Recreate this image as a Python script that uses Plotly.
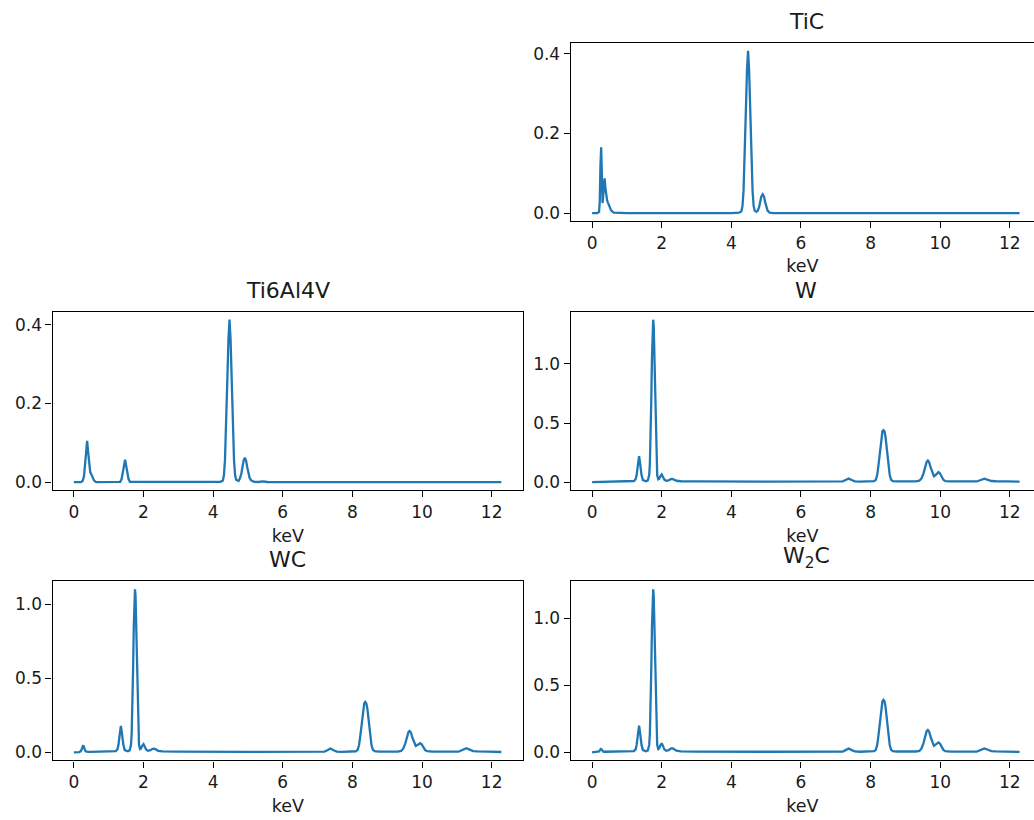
import plotly.graph_objects as go

# ---------------- data ----------------
TITLES = ["TiC", "Ti6Al4V", "W", "WC", "W<sub>2</sub>C"]
X_TICKS = [0, 2, 4, 6, 8, 10, 12]

TIC_KEV = [0.0, 0.15, 0.20, 0.22, 0.24, 0.26, 0.28, 0.30, 0.32, 0.34, 0.36, 0.38, 0.40, 0.43, 0.46, 0.50, 0.55, 0.62,
           1.0, 4.0,
           4.22, 4.29, 4.32, 4.35, 4.38, 4.415, 4.45, 4.48, 4.51, 4.545, 4.58, 4.61, 4.64, 4.67,
           4.72, 4.76, 4.80, 4.83, 4.86, 4.90, 4.94, 4.97, 5.00, 5.04, 5.10, 5.20,
           8.0, 12.28]
TIC_INT = [0, 0, 0.003, 0.03, 0.12, 0.165, 0.10, 0.025, 0.045, 0.075, 0.087, 0.065, 0.045, 0.032, 0.025, 0.015, 0.006, 0.001,
           0, 0,
           0.001, 0.0045, 0.018, 0.055, 0.13, 0.25, 0.36, 0.408, 0.36, 0.25, 0.13, 0.055, 0.018, 0.006,
           0.003, 0.006, 0.016, 0.028, 0.041, 0.047, 0.041, 0.028, 0.015, 0.006, 0.001, 0,
           0, 0]

TI64_KEV = [0.0, 0.20, 0.25, 0.29, 0.32, 0.35, 0.38, 0.41, 0.44, 0.47, 0.50, 0.54, 0.58, 0.64,
            1.33, 1.37, 1.40, 1.435, 1.47, 1.505, 1.54, 1.57, 1.61,
            4.0,
            4.21, 4.28, 4.31, 4.34, 4.37, 4.405, 4.44, 4.47, 4.50, 4.535, 4.57, 4.60, 4.63, 4.66,
            4.73, 4.77, 4.81, 4.84, 4.875, 4.91, 4.945, 4.98, 5.01, 5.05, 5.10, 5.18,
            5.30, 5.43, 5.56, 5.70,
            8.0, 12.28]
TI64_INT = [0, 0, 0.003, 0.015, 0.045, 0.085, 0.105, 0.075, 0.04, 0.025, 0.02, 0.012, 0.004, 0,
            0.001, 0.008, 0.02, 0.04, 0.057, 0.04, 0.02, 0.008, 0.001,
            0,
            0.001, 0.0045, 0.018, 0.056, 0.132, 0.253, 0.364, 0.413, 0.364, 0.253, 0.132, 0.056, 0.018, 0.006,
            0.003, 0.01, 0.022, 0.038, 0.055, 0.062, 0.055, 0.038, 0.022, 0.01, 0.004, 0.001,
            0.0005, 0.002, 0.0005, 0,
            0, 0]

W_KEV = [0.0, 0.15, 0.20, 0.23, 0.25, 0.27, 0.29, 0.32, 0.36, 0.45, 1.0, 1.2,
         1.25, 1.28, 1.315, 1.35, 1.385, 1.42, 1.46, 1.55,
         1.60, 1.64, 1.66, 1.68, 1.70, 1.72, 1.74, 1.755, 1.77, 1.79, 1.81, 1.83, 1.85, 1.87, 1.90,
         1.93, 1.96, 2.00, 2.04, 2.08, 2.13,
         2.20, 2.26, 2.30, 2.35, 2.42, 2.55,
         3.0, 5.0, 7.0,
         7.20, 7.28, 7.37, 7.46, 7.55, 7.70,
         8.00, 8.10, 8.15, 8.19, 8.23, 8.27, 8.31, 8.34, 8.37, 8.40, 8.43, 8.47, 8.51, 8.55, 8.59, 8.64, 8.75, 9.00,
         9.30, 9.40, 9.46, 9.52, 9.57, 9.61, 9.645, 9.68, 9.73, 9.78, 9.82, 9.86, 9.91, 9.95, 9.99, 10.04, 10.09, 10.15, 10.30,
         11.05, 11.15, 11.27, 11.37, 11.47, 11.60, 11.75, 11.90, 12.28]

W_INT = [0, 0.001, 0.002, 0.002, 0.003, 0.003, 0.003, 0.003, 0.004, 0.004, 0.008, 0.010,
         0.025, 0.06, 0.145, 0.22, 0.145, 0.06, 0.018, 0.008,
         0.015, 0.06, 0.16, 0.38, 0.70, 1.06, 1.32, 1.375, 1.32, 1.06, 0.70, 0.38, 0.16, 0.06, 0.025,
         0.03, 0.05, 0.065, 0.042, 0.02, 0.012,
         0.016, 0.026, 0.028, 0.022, 0.012, 0.008,
         0.006, 0.005, 0.005,
         0.007, 0.018, 0.030, 0.018, 0.007, 0.005,
         0.006, 0.008, 0.02, 0.06, 0.15, 0.27, 0.38, 0.43, 0.44, 0.43, 0.38, 0.27, 0.15, 0.06, 0.02, 0.008, 0.007, 0.006,
         0.007, 0.012, 0.03, 0.075, 0.135, 0.172, 0.183, 0.17, 0.12, 0.07, 0.05, 0.058, 0.078, 0.085, 0.075, 0.045, 0.02, 0.009, 0.006,
         0.006, 0.016, 0.03, 0.02, 0.01, 0.008, 0.009, 0.006, 0.004]

WC_INT = [0, 0.001, 0.008, 0.03, 0.045, 0.047, 0.035, 0.012, 0.004, 0.003, 0.006, 0.008,
          0.02, 0.05, 0.118, 0.178, 0.118, 0.05, 0.015, 0.007,
          0.013, 0.05, 0.13, 0.30, 0.56, 0.85, 1.055, 1.10, 1.055, 0.85, 0.56, 0.30, 0.13, 0.05, 0.022,
          0.026, 0.043, 0.055, 0.036, 0.017, 0.01,
          0.014, 0.023, 0.025, 0.02, 0.01, 0.006,
          0.004, 0.003, 0.003,
          0.005, 0.014, 0.025, 0.014, 0.005, 0.003,
          0.004, 0.007, 0.016, 0.047, 0.115, 0.21, 0.295, 0.33, 0.34, 0.33, 0.295, 0.21, 0.115, 0.047, 0.016, 0.007, 0.005, 0.004,
          0.005, 0.009, 0.024, 0.06, 0.106, 0.136, 0.144, 0.134, 0.095, 0.058, 0.043, 0.047, 0.058, 0.061, 0.054, 0.033, 0.015, 0.007, 0.004,
          0.004, 0.014, 0.028, 0.018, 0.008, 0.006, 0.007, 0.004, 0.002]

W2C_INT = [0, 0.001, 0.006, 0.018, 0.025, 0.022, 0.012, 0.005, 0.004, 0.004, 0.007, 0.009,
           0.022, 0.055, 0.13, 0.198, 0.13, 0.055, 0.016, 0.008,
           0.014, 0.055, 0.14, 0.335, 0.62, 0.94, 1.165, 1.215, 1.165, 0.94, 0.62, 0.335, 0.14, 0.055, 0.024,
           0.03, 0.052, 0.067, 0.044, 0.02, 0.011,
           0.016, 0.027, 0.03, 0.024, 0.012, 0.007,
           0.005, 0.004, 0.004,
           0.006, 0.016, 0.028, 0.016, 0.006, 0.004,
           0.005, 0.008, 0.018, 0.054, 0.133, 0.24, 0.337, 0.38, 0.39, 0.38, 0.337, 0.24, 0.133, 0.054, 0.018, 0.008, 0.006, 0.005,
           0.006, 0.01, 0.027, 0.069, 0.122, 0.157, 0.166, 0.155, 0.11, 0.066, 0.048, 0.055, 0.07, 0.074, 0.066, 0.04, 0.018, 0.008, 0.005,
           0.005, 0.015, 0.028, 0.019, 0.009, 0.007, 0.008, 0.005, 0.003]

SERIES = [(TIC_KEV, TIC_INT), (TI64_KEV, TI64_INT), (W_KEV, W_INT), (W_KEV, WC_INT), (W_KEV, W2C_INT)]
Y_TICKS = [[0.0, 0.2, 0.4], [0.0, 0.2, 0.4], [0.0, 0.5, 1.0], [0.0, 0.5, 1.0], [0.0, 0.5, 1.0]]

# ---------------- layout geometry ----------------
W_PX, H_PX = 1034, 820
COL_X = {1: (52.5, 523.3), 2: (570.7, 1034.0)}
ROW_Y = {1: (42.7, 221.7), 2: (312.3, 491.5), 3: (582.5, 762.3)}
PANEL_POS = [(1, 2), (2, 1), (2, 2), (3, 1), (3, 2)]  # (row, col)
PX_PER_KEV = 34.81
X_LEFT = -0.615

LINE_COLOR = "#1f77b4"
FONT = "DejaVu Sans"
TXT = "#1a1a1a"

fig = go.Figure()
annotations = []
for i, ((row, col), (xs, ys), title, yt) in enumerate(zip(PANEL_POS, SERIES, TITLES, Y_TICKS)):
    n = i + 1
    xa = "x" if n == 1 else f"x{n}"
    ya = "y" if n == 1 else f"y{n}"
    fig.add_trace(go.Scatter(x=xs, y=ys, mode="lines", xaxis=xa, yaxis=ya,
                             line=dict(color=LINE_COLOR, width=2.3), showlegend=False,
                             hoverinfo="x+y"))
    x0, x1 = COL_X[col]
    yt0, yb0 = ROW_Y[row]
    xdom = [x0 / W_PX, x1 / W_PX]
    ydom = [1 - yb0 / H_PX, 1 - yt0 / H_PX]
    ymax = max(ys)
    yr = [-0.05 * ymax, 1.05 * ymax]
    xr = [X_LEFT, X_LEFT + (x1 - x0) / PX_PER_KEV]
    axis_common = dict(showline=True, linecolor="black", linewidth=1.2, ticks="outside",
                       ticklen=6, tickwidth=1.2, tickcolor="black", showgrid=False, zeroline=False,
                       tickfont=dict(family=FONT, size=17, color=TXT))
    fig.layout[f"xaxis{'' if n == 1 else n}"] = dict(
        axis_common, domain=xdom, range=xr, anchor=ya, tickvals=X_TICKS,
        ticktext=[str(t) for t in X_TICKS], mirror=True,
        title=dict(text="keV", font=dict(family=FONT, size=17.5, color=TXT), standoff=8))
    fig.layout[f"yaxis{'' if n == 1 else n}"] = dict(
        axis_common, domain=ydom, range=yr, anchor=xa, tickvals=yt,
        ticktext=[f"{v:.1f}" for v in yt], mirror=(col == 1))
    # title centred over full (unclipped) axes width
    full_right = x0 + (X_LEFT * -1 + 12.915) * PX_PER_KEV
    cx = (x0 + full_right) / 2 / W_PX
    annotations.append(dict(text=title, x=cx, y=ydom[1], xref="paper", yref="paper",
                            xanchor="center", yanchor="bottom", yshift=7, showarrow=False,
                            font=dict(family=FONT, size=22, color=TXT)))

fig.update_layout(width=W_PX, height=H_PX, margin=dict(l=0, r=0, t=0, b=0),
                  paper_bgcolor="white", plot_bgcolor="white", annotations=annotations,
                  font=dict(family=FONT))
fig.write_html("out.html", config={"displayModeBar": False},
               post_script="document.body.style.margin='0px';document.body.style.padding='0px';"
                           "document.body.style.overflow='hidden';")
